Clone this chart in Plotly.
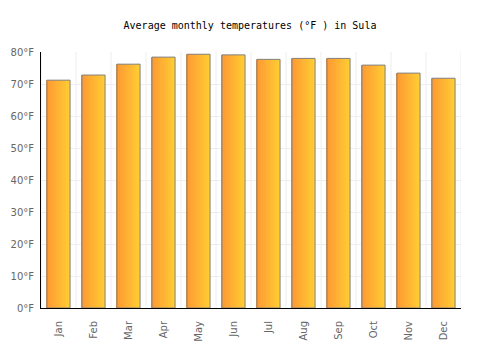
import plotly.graph_objects as go

months = ["Jan", "Feb", "Mar", "Apr", "May", "Jun", "Jul", "Aug", "Sep", "Oct", "Nov", "Dec"]
temps_f = [71.2, 72.8, 76.2, 78.4, 79.3, 79.1, 77.7, 78.0, 78.0, 75.9, 73.4, 71.8]
y_ticks = [0, 10, 20, 30, 40, 50, 60, 70, 80]
y_tick_labels = [f"{v}°F" for v in y_ticks]

fig = go.Figure()

bar_w = 0.66
n_slices = 14
c0 = (255, 153, 51)
c1 = (255, 204, 51)
for k in range(n_slices):
    t = k / (n_slices - 1)
    col = tuple(round(c0[i] + (c1[i] - c0[i]) * t) for i in range(3))
    sw = bar_w / n_slices
    fig.add_trace(go.Bar(
        x=months, y=temps_f,
        width=sw * 1.05, offset=-bar_w / 2 + k * sw,
        marker=dict(color=f"rgb{col}", line=dict(width=0)),
        hoverinfo="skip", showlegend=False,
    ))
fig.add_trace(go.Bar(
    x=months, y=temps_f, width=bar_w, offset=-bar_w / 2,
    marker=dict(color="rgba(0,0,0,0)", line=dict(color="#808080", width=1)),
    showlegend=False,
))

fig.update_layout(
    width=500, height=350,
    barmode="overlay",
    margin=dict(l=41, r=39, t=52, b=42),
    paper_bgcolor="white", plot_bgcolor="white",
    title=dict(text="Average monthly temperatures (°F ) in Sula", x=0.5, xanchor="center",
               y=1 - 25 / 350, yanchor="middle",
               font=dict(family="DejaVu Sans Mono", size=10, color="#000")),
    font=dict(family="DejaVu Sans", size=10, color="#666"),
)
fig.update_yaxes(range=[0, 80], tickvals=y_ticks, ticktext=y_tick_labels,
                 showgrid=True, gridcolor="#eeeeee", showline=True, linecolor="#000",
                 linewidth=1, ticks="", zeroline=False, ticklabelstandoff=4,
                 automargin=False)
fig.update_xaxes(showgrid=False, showline=True, linecolor="#000", linewidth=1,
                 tickangle=-90, ticks="", range=[-0.5, 11.5], ticklabelstandoff=8,
                 automargin=False)
for i in range(13):
    fig.add_vline(x=i - 0.5, line=dict(color="#eeeeee", width=1), layer="below")

fig.write_html("out.html")
